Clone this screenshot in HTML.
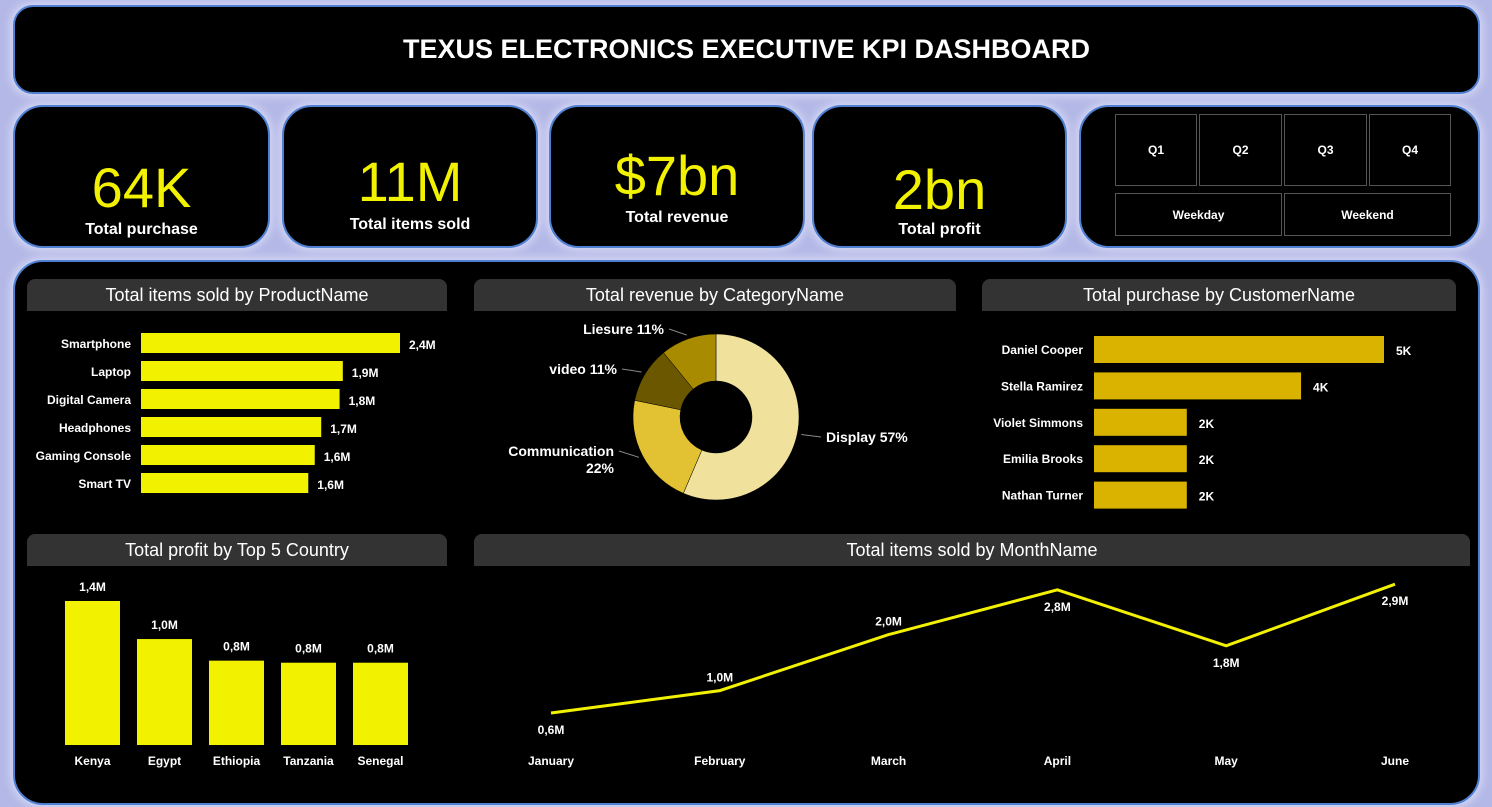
<!DOCTYPE html>
<html><head><meta charset="utf-8">
<style>
*{margin:0;padding:0;box-sizing:border-box}
body{width:1492px;height:807px;overflow:hidden;background:#b3b8e6;font-family:"Liberation Sans",sans-serif;position:relative}
.box{position:absolute;background:#000;border:2px solid #4f7fd0;box-shadow:0 0 8px 3px #d4d6f4}
.kpi{border-radius:30px;text-align:center;color:#fff}
.kpi .v{position:absolute;left:0;right:0;color:#f2f200;font-size:56px}
.kpi .l{position:absolute;left:0;right:0;font-size:16px;font-weight:bold}
.tb{position:absolute;background:#333;color:#fff;font-size:18px;text-align:center;line-height:32px;border-radius:8px 8px 0 0}
.sl{position:absolute;border:1px solid #555;color:#fff;font-size:12px;font-weight:bold;display:flex;align-items:center;justify-content:center}
svg text{font-family:"Liberation Sans",sans-serif;font-weight:bold;fill:#fff}
</style></head><body>
<div class="box" style="left:13px;top:5px;width:1467px;height:89px;border-radius:20px;color:#fff;font-weight:bold;font-size:27px;text-align:center;line-height:85px">TEXUS ELECTRONICS EXECUTIVE KPI DASHBOARD</div>

<div class="box kpi" style="left:13px;top:105px;width:257px;height:143px"><div class="v" style="top:48px">64K</div><div class="l" style="top:114px">Total purchase</div></div>
<div class="box kpi" style="left:282px;top:105px;width:256px;height:143px"><div class="v" style="top:42px">11M</div><div class="l" style="top:109px">Total items sold</div></div>
<div class="box kpi" style="left:549px;top:105px;width:256px;height:143px"><div class="v" style="top:36px">$7bn</div><div class="l" style="top:102px">Total revenue</div></div>
<div class="box kpi" style="left:812px;top:105px;width:255px;height:143px"><div class="v" style="top:50px">2bn</div><div class="l" style="top:114px">Total profit</div></div>
<div class="box" style="left:1079px;top:105px;width:401px;height:143px;border-radius:30px"></div>
<div class="sl" style="left:1115px;top:114px;width:82px;height:72px">Q1</div>
<div class="sl" style="left:1199px;top:114px;width:83px;height:72px">Q2</div>
<div class="sl" style="left:1284px;top:114px;width:83px;height:72px">Q3</div>
<div class="sl" style="left:1369px;top:114px;width:82px;height:72px">Q4</div>
<div class="sl" style="left:1115px;top:193px;width:167px;height:43px">Weekday</div>
<div class="sl" style="left:1284px;top:193px;width:167px;height:43px">Weekend</div>

<div class="box" style="left:13px;top:260px;width:1467px;height:545px;border-radius:30px"></div>
<div class="tb" style="left:27px;top:279px;width:420px">Total items sold by ProductName</div>
<div class="tb" style="left:474px;top:279px;width:482px">Total revenue by CategoryName</div>
<div class="tb" style="left:982px;top:279px;width:474px">Total purchase by CustomerName</div>
<div class="tb" style="left:27px;top:534px;width:420px">Total profit by Top 5 Country</div>
<div class="tb" style="left:474px;top:534px;width:996px">Total items sold by MonthName</div>

<svg id="chart" width="1492" height="807" style="position:absolute;left:0;top:0"></svg>

<script>
const productNames=["Smartphone","Laptop","Digital Camera","Headphones","Gaming Console","Smart TV"];
const productValues=[2.4,1.87,1.84,1.67,1.61,1.55];
const productLabels=["2,4M","1,9M","1,8M","1,7M","1,6M","1,6M"];
const categoryNames=["Display","Communication","video","Liesure"];
const categoryValues=[57,22,11,11];
const categoryLabels=["Display 57%","Communication\n22%","video 11%","Liesure 11%"];
const customerNames=["Daniel Cooper","Stella Ramirez","Violet Simmons","Emilia Brooks","Nathan Turner"];
const customerValues=[5.0,3.57,1.6,1.6,1.6];
const customerLabels=["5K","4K","2K","2K","2K"];
const countryNames=["Kenya","Egypt","Ethiopia","Tanzania","Senegal"];
const countryValues=[1.4,1.03,0.82,0.8,0.8];
const countryLabels=["1,4M","1,0M","0,8M","0,8M","0,8M"];
const monthNames=["January","February","March","April","May","June"];
const monthValues=[0.6,1.0,2.0,2.8,1.8,2.9];
const monthLabels=["0,6M","1,0M","2,0M","2,8M","1,8M","2,9M"];

const svg=document.getElementById('chart');
const NS='http://www.w3.org/2000/svg';
function mk(tag,attrs,parent){const e=document.createElementNS(NS,tag);for(const k in attrs)e.setAttribute(k,attrs[k]);(parent||svg).appendChild(e);return e;}
function txt(x,y,s,size,anchor){const t=mk('text',{x:x,y:y,'font-size':size,'text-anchor':anchor||'middle'});t.textContent=s;return t;}

// product bars
const px=v=>141+v*(259/2.4);
productNames.forEach((n,i)=>{
  const y=333+i*28;
  const r=mk('rect',{x:141,y:y,width:px(productValues[i])-141,height:20,fill:'#f2f200'});
  
  
  const a=txt(131,y+15,n,12,'end');
  
  
  const b=txt(px(productValues[i])+9,y+16,productLabels[i],12,'start');
  
  
});

// donut
const cx=716,cy=417,R=83,r0=36;
const dColors=['#f0e19c','#e2c232','#6b5700','#a88b00'];
const total=categoryValues.reduce((a,b)=>a+b,0);
let ang=0;
const labelPos=[[826,442,'start'],[614,456,'end'],[617,374,'end'],[664,334,'end']];
categoryValues.forEach((v,i)=>{
  const a0=ang,a1=ang+v/total*Math.PI*2;ang=a1;
  const p=(a,rr)=>[cx+rr*Math.sin(a),cy-rr*Math.cos(a)];
  const [x0,y0]=p(a0,R),[x1,y1]=p(a1,R),[x2,y2]=p(a1,r0),[x3,y3]=p(a0,r0);
  const lg=(a1-a0)>Math.PI?1:0;
  const s=mk('path',{d:`M${x0},${y0}A${R},${R} 0 ${lg} 1 ${x1},${y1}L${x2},${y2}A${r0},${r0} 0 ${lg} 0 ${x3},${y3}Z`,fill:dColors[i],stroke:'#000','stroke-width':0.5});
  
  
  const am=(a0+a1)/2;const [lx,ly]=p(am,R+4);
  const [tx,ty,anc]=labelPos[i];
  mk('polyline',{points:`${lx},${ly} ${anc==='start'?tx-5:tx+5},${ty-5}`,stroke:'#888',fill:'none'});
  const parts=categoryLabels[i].split('\n');
  parts.forEach((pt,j)=>{const t=txt(tx,ty+j*17-(parts.length>1?0:0),pt,14,anc);
    
    });
});

// customer bars
const cxs=v=>1094+v*(290/5);
customerNames.forEach((n,i)=>{
  const y=336+i*36.4;
  const r=mk('rect',{x:1094,y:y,width:cxs(customerValues[i])-1094,height:27,fill:'#d9b300'});
  
  
  const a=txt(1083,y+18,n,12,'end');
  
  
  const b=txt(cxs(customerValues[i])+12,y+19,customerLabels[i],12,'start');
  
  
});

// country columns
const base=745,ky=v=>base-v*(144/1.4);
countryNames.forEach((n,i)=>{
  const x=65+i*72;
  const r=mk('rect',{x:x,y:ky(countryValues[i]),width:55,height:base-ky(countryValues[i]),fill:'#f2f200'});
  
  
  const a=txt(x+27.5,765,n,12);
  
  
  const b=txt(x+27.5,ky(countryValues[i])-10,countryLabels[i],12);
  
  
});

// month line
const mx=i=>551+i*168.8, my=v=>746.6-v*56;
const pts=monthValues.map((v,i)=>mx(i)+','+my(v)).join(' ');
const ln=mk('polyline',{points:pts,fill:'none',stroke:'#f2f200','stroke-width':3});


const above=[false,true,true,false,false,false];
monthNames.forEach((n,i)=>{
  const a=txt(mx(i),765,n,12);
  
  
  const y=above[i]?my(monthValues[i])-9:my(monthValues[i])+21;
  const b=txt(mx(i),y,monthLabels[i],12);
  
  
});
</script>
</body></html>
